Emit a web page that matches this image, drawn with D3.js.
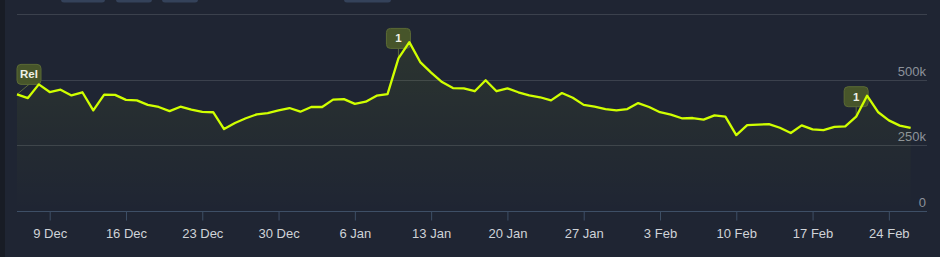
<!DOCTYPE html>
<html>
<head>
<meta charset="utf-8">
<script src="https://cdn.jsdelivr.net/npm/d3@7/dist/d3.min.js"></script>
<style>
  html, body { margin: 0; padding: 0; background: #1f2533; }
  svg { display: block; font-family: "Liberation Sans", Arial, sans-serif; }
</style>
</head>
<body>
<svg width="940" height="257"></svg>
<script>
// daily players, one value per day starting 6 Dec
const startDay = '2024-12-06';
const players = [
  444000, 430000, 482000, 453000, 462000, 440000, 452000, 383000, 443000, 442000,
  423000, 421000, 404000, 396000, 380000, 397000, 386000, 377000, 376000, 312000,
  335000, 353000, 368000, 373000, 383000, 392000, 378000, 396000, 396000, 424000,
  426000, 408000, 416000, 439000, 445000, 581000, 643000, 567000, 527000, 491000,
  468000, 467000, 456000, 498000, 456000, 467000, 452000, 440000, 433000, 421000,
  449000, 431000, 404000, 397000, 388000, 383000, 388000, 411000, 396000, 376000,
  367000, 353000, 354000, 348000, 364000, 359000, 289000, 327000, 329000, 331000,
  317000, 297000, 326000, 311000, 308000, 320000, 322000, 359000, 439000, 377000,
  345000, 325000, 316000
];

// x axis ticks (weekly)
const tickDates = ['2024-12-09', '2024-12-16', '2024-12-23', '2024-12-30', '2025-01-06',
  '2025-01-13', '2025-01-20', '2025-01-27', '2025-02-03', '2025-02-10', '2025-02-17', '2025-02-24'];
const yTicks = [0, 250000, 500000, 750000];
const yTickLabels = ['0', '250k', '500k', ''];

// event flags
const flagLabels = ['Rel', '1', '1'];
const flagDates = ['2024-12-06', '2025-01-10', '2025-02-21'];

const parse = d3.timeParse('%Y-%m-%d');
const start = parse(startDay);
const data = players.map((v, i) => ({ date: d3.timeDay.offset(start, i), value: v }));

const svg = d3.select('svg');
const plotL = 17, plotR = 927, plotT = 14, plotB = 211;

const x = d3.scaleTime()
  .domain([start, d3.timeHour.offset(data[data.length - 1].date, 36)])
  .range([plotL, plotR]);
const y = d3.scaleLinear().domain([0, 750000]).range([plotB, plotT]);

// dark strip on the far left
svg.append('rect').attr('x', 0).attr('y', 0).attr('width', 5).attr('height', 257).attr('fill', '#181c25');

// cut-off buttons at the top
const buttons = [[61, 44], [116, 36], [162, 36], [344, 47]];
svg.selectAll('rect.btn').data(buttons).enter().append('rect')
  .attr('class', 'btn')
  .attr('x', d => d[0]).attr('y', -10)
  .attr('width', d => d[1]).attr('height', 12.5)
  .attr('rx', 3)
  .attr('fill', '#34425a');

// grid
svg.append('g').selectAll('line').data(yTicks.filter(d => d > 0)).enter().append('line')
  .attr('x1', plotL).attr('x2', plotR)
  .attr('y1', d => Math.round(y(d)) + 0.5).attr('y2', d => Math.round(y(d)) + 0.5)
  .attr('stroke', '#3b414d');

// y labels
svg.append('g').selectAll('text').data(yTicks).enter().append('text')
  .attr('x', plotR - 1)
  .attr('y', d => y(d) - 4)
  .attr('text-anchor', 'end')
  .attr('fill', '#8d929b')
  .style('font-size', '13px')
  .text((d, i) => yTickLabels[i]);

// x axis
const xAxis = d3.axisBottom(x)
  .tickValues(tickDates.map(parse))
  .tickFormat(d3.timeFormat('%-d %b'))
  .tickSize(9)
  .tickPadding(8);
const gx = svg.append('g').attr('transform', 'translate(0,' + (plotB + 0.5) + ')').call(xAxis);
gx.select('.domain').attr('stroke', '#3e4f66').attr('d', 'M' + plotL + ',0H' + plotR);
gx.selectAll('.tick line').attr('stroke', '#3e4f66');
gx.selectAll('.tick text').attr('fill', '#cfd3d8').style('font-size', '13px')
  .style('font-family', '"Liberation Sans", Arial, sans-serif');

// area + line
const defs = svg.append('defs');
const grad = defs.append('linearGradient').attr('id', 'areaGrad')
  .attr('x1', 0).attr('x2', 0).attr('y1', 0).attr('y2', 1);
grad.append('stop').attr('offset', '0%').attr('stop-color', '#d0ff00').attr('stop-opacity', 0.07);
grad.append('stop').attr('offset', '100%').attr('stop-color', '#d0ff00').attr('stop-opacity', 0.0);

svg.append('path').datum(data)
  .attr('fill', 'url(#areaGrad)')
  .attr('d', d3.area().x(d => x(d.date)).y0(y(0)).y1(d => y(d.value)));

// flags (drawn under the line)
const flagG = svg.append('g');
flagLabels.forEach((lab, i) => {
  const d = data.find(p => +p.date === +parse(flagDates[i]));
  const px = x(d.date), py = y(d.value);
  const w = 24, h = 20;
  const bx = Math.max(plotL, px - w / 2);
  const by = py - 10 - h;
  flagG.append('line')
    .attr('x1', bx + w / 2).attr('y1', by + h)
    .attr('x2', px).attr('y2', py)
    .attr('stroke', '#5d6b3a').attr('stroke-width', 1);
  flagG.append('rect')
    .attr('x', bx).attr('y', by).attr('width', w).attr('height', h).attr('rx', 4)
    .attr('fill', '#47552a').attr('stroke', '#5b6a35').attr('stroke-width', 1);
  flagG.append('text')
    .attr('x', bx + w / 2).attr('y', by + h / 2 + 4)
    .attr('text-anchor', 'middle')
    .attr('fill', '#eef0e6')
    .style('font-size', '11.5px').style('font-weight', 'bold')
    .text(lab);
});

svg.append('path').datum(data)
  .attr('fill', 'none')
  .attr('stroke', '#d0ff00')
  .attr('stroke-width', 2.3)
  .attr('stroke-linejoin', 'round')
  .attr('d', d3.line().x(d => x(d.date)).y(d => y(d.value)));
</script>
</body>
</html>
